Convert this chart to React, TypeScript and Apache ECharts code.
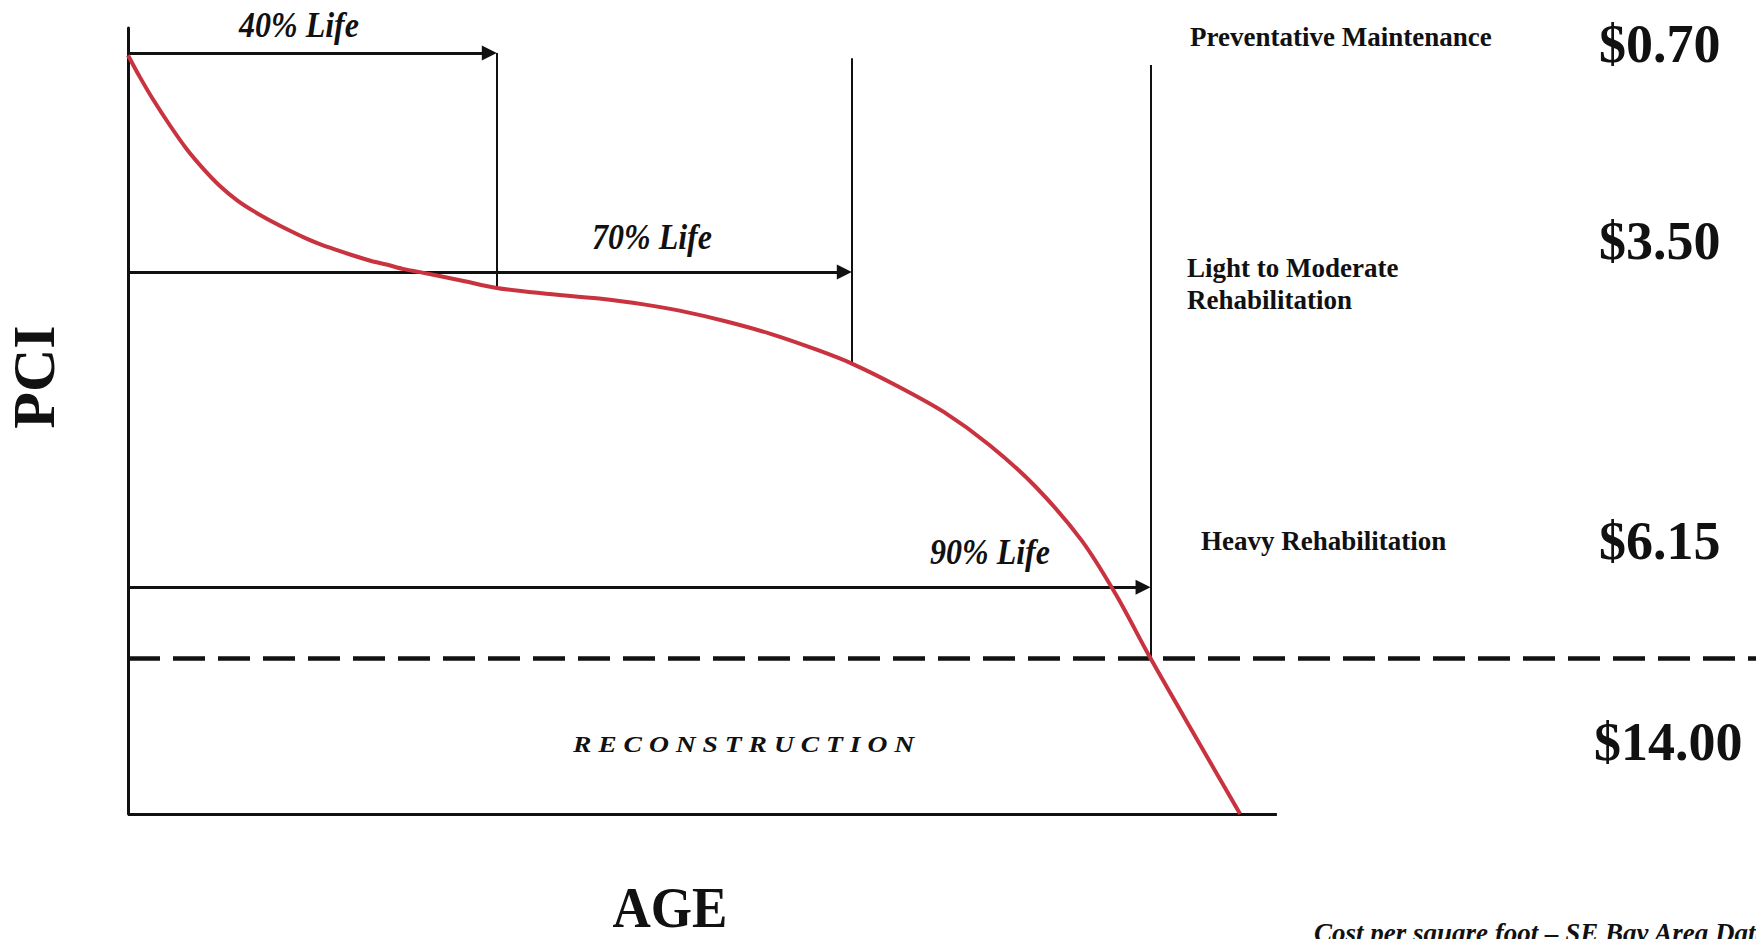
import React, { useEffect, useRef } from "react";
import * as echarts from "echarts";

// PCI deterioration curve (age units on x, PCI on y)
const curveAge = [0, 1.0, 2.2, 3.7, 5.1, 6.6, 8.0, 9.5, 10.9, 12.4, 13.8, 15.3, 16.7, 18.2, 19.6, 21.1, 22.5, 24.0, 25.4, 29, 32.1, 36, 41, 45, 48, 52, 56, 60, 63, 67, 71, 75, 79, 83, 86, 89, 93, 96.8];
const curvePci = [100.4, 97.6, 94.5, 91.0, 88.0, 85.3, 83.1, 81.2, 79.8, 78.5, 77.4, 76.3, 75.4, 74.6, 73.9, 73.2, 72.7, 72.1, 71.7, 70.6, 69.6, 68.9, 68.2, 67.4, 66.6, 65.2, 63.5, 61.4, 59.6, 56.6, 53.2, 48.8, 43.3, 36.2, 29.0, 20.6, 10.0, 0];

// life markers
const lifeLabels = ["40% Life", "70% Life", "90% Life"];
const lifeAges = [32.1, 63.0, 89.0];
const arrowPci = [100.7, 71.7, 30.0];
const markerTopPci = [100.7, 100.0, 99.1];
const markerBottomPci = [69.7, 59.6, 20.6];

// axes extents
const ageAxisEnd = 100;
const ageMax = 141.7;
const pciMax = 104;

// reconstruction threshold
const reconstructionPci = 20.6;

// treatments and costs
const treatments = ["Preventative Maintenance", "Light to Moderate\nRehabilitation", "Heavy Rehabilitation", "R E C O N S T R U C T I O N"];
const costs = ["$0.70", "$3.50", "$6.15", "$14.00"];

const xAxisName = "AGE";
const yAxisName = "PCI";
const footnote = "Cost per square foot – SE Bay Area Data";

const INK = "#111111";
const RED = "#c8333f";
const SERIF = '"Liberation Serif", "Times New Roman", serif';
const ARROW_INSET = 0.65;

export default function App() {
  const ref = useRef<HTMLDivElement>(null);

  useEffect(() => {
    document.body.style.margin = "0";
    if (!ref.current) return;
    const chart = echarts.init(ref.current, undefined, { renderer: "svg" });

    const arrowLines = lifeAges.map((age, i) => [
      { coord: [0, arrowPci[i]] },
      { coord: [age - ARROW_INSET, arrowPci[i]] },
    ]);
    const verticalLines = lifeAges.map((age, i) => [
      { coord: [age, markerTopPci[i]] },
      { coord: [age, markerBottomPci[i]] },
    ]);

    const lifePos = [
      [299, 25],
      [652, 237],
      [990, 552],
    ];

    const bold = (size: number, italic = false) =>
      `${italic ? "italic " : ""}bold ${size}px ${SERIF}`;

    const graphic: any[] = [];
    lifeLabels.forEach((t, i) => {
      graphic.push({
        type: "text",
        x: lifePos[i][0],
        y: lifePos[i][1],
        scaleY: 1.1,
        style: { text: t, font: bold(32, true), fill: INK, textAlign: "center", textVerticalAlign: "middle" },
      });
    });
    const treatPos = [
      [1190, 37, 27],
      [1187, 284, 27],
      [1201, 541, 27],
    ];
    treatPos.forEach((p, i) => {
      graphic.push({
        type: "text",
        x: p[0],
        y: p[1],
        style: {
          text: treatments[i],
          font: bold(p[2]),
          lineHeight: 32,
          fill: INK,
          textAlign: "left",
          textVerticalAlign: "middle",
        },
      });
    });
    graphic.push({
      type: "text",
      x: 573,
      y: 744,
      scaleX: 1.15,
      style: { text: treatments[3], font: bold(24, true), fill: INK, textAlign: "left", textVerticalAlign: "middle" },
    });
    const costPos = [
      [1599, 44],
      [1599, 241],
      [1599, 541],
      [1594, 742],
    ];
    costPos.forEach((p, i) => {
      graphic.push({
        type: "text",
        x: p[0],
        y: p[1],
        style: { text: costs[i], font: bold(54), fill: INK, textAlign: "left", textVerticalAlign: "middle" },
      });
    });
    graphic.push({
      type: "text",
      x: 670,
      y: 908,
      scaleY: 1.08,
      style: { text: xAxisName, font: bold(53), fill: INK, textAlign: "center", textVerticalAlign: "middle" },
    });
    graphic.push({
      type: "text",
      x: 34,
      y: 377,
      rotation: Math.PI / 2,
      style: { text: yAxisName, font: bold(60), fill: INK, textAlign: "center", textVerticalAlign: "middle" },
    });
    graphic.push({
      type: "text",
      x: 1314,
      y: 919,
      style: { text: footnote, font: bold(27, true), fill: INK, textAlign: "left", textVerticalAlign: "top" },
    });

    const option: any = {
      animation: false,
      backgroundColor: "#ffffff",
      grid: { left: 128, top: 28, right: 0, bottom: 125 },
      xAxis: {
        type: "value",
        min: 0,
        max: ageMax,
        axisLine: { show: false },
        axisTick: { show: false },
        axisLabel: { show: false },
        splitLine: { show: false },
      },
      yAxis: {
        type: "value",
        min: 0,
        max: pciMax,
        axisLine: { show: true, onZero: false, lineStyle: { color: INK, width: 3 } },
        axisTick: { show: false },
        axisLabel: { show: false },
        splitLine: { show: false },
      },
      series: [
        {
          type: "line",
          name: "frame",
          data: [],
          markLine: {
            silent: true,
            symbol: ["none", "none"],
            label: { show: false },
            lineStyle: { color: INK, width: 3, type: "solid" },
            data: [[{ coord: [0, 0] }, { coord: [ageAxisEnd, 0] }]],
          },
        },
        {
          type: "line",
          name: "dashed",
          data: [],
          markLine: {
            silent: true,
            symbol: ["none", "none"],
            label: { show: false },
            lineStyle: { color: INK, width: 4.5, type: [32, 13] },
            data: [[{ coord: [0, reconstructionPci] }, { coord: [ageMax, reconstructionPci] }]],
          },
        },
        {
          type: "line",
          name: "verticals",
          data: [],
          markLine: {
            silent: true,
            symbol: ["none", "none"],
            label: { show: false },
            lineStyle: { color: INK, width: 2, type: "solid" },
            data: verticalLines,
          },
        },
        {
          type: "line",
          name: "arrows",
          data: [],
          markLine: {
            silent: true,
            symbol: ["none", "triangle"],
            symbolSize: [15, 15],
            label: { show: false },
            lineStyle: { color: INK, width: 2.8, type: "solid" },
            itemStyle: { color: INK },
            data: arrowLines,
          },
        },
        {
          type: "line",
          name: "PCI",
          data: curveAge.map((a, i) => [a, curvePci[i]]),
          smooth: 0.3,
          showSymbol: false,
          clip: false,
          z: 5,
          lineStyle: { color: RED, width: 4 },
        },
      ],
      graphic,
    };

    chart.setOption(option);
    return () => chart.dispose();
  }, []);

  return (
    <div
      ref={ref}
      style={{ position: "fixed", left: 0, top: 0, width: 1756, height: 939, background: "#fff" }}
    />
  );
}
